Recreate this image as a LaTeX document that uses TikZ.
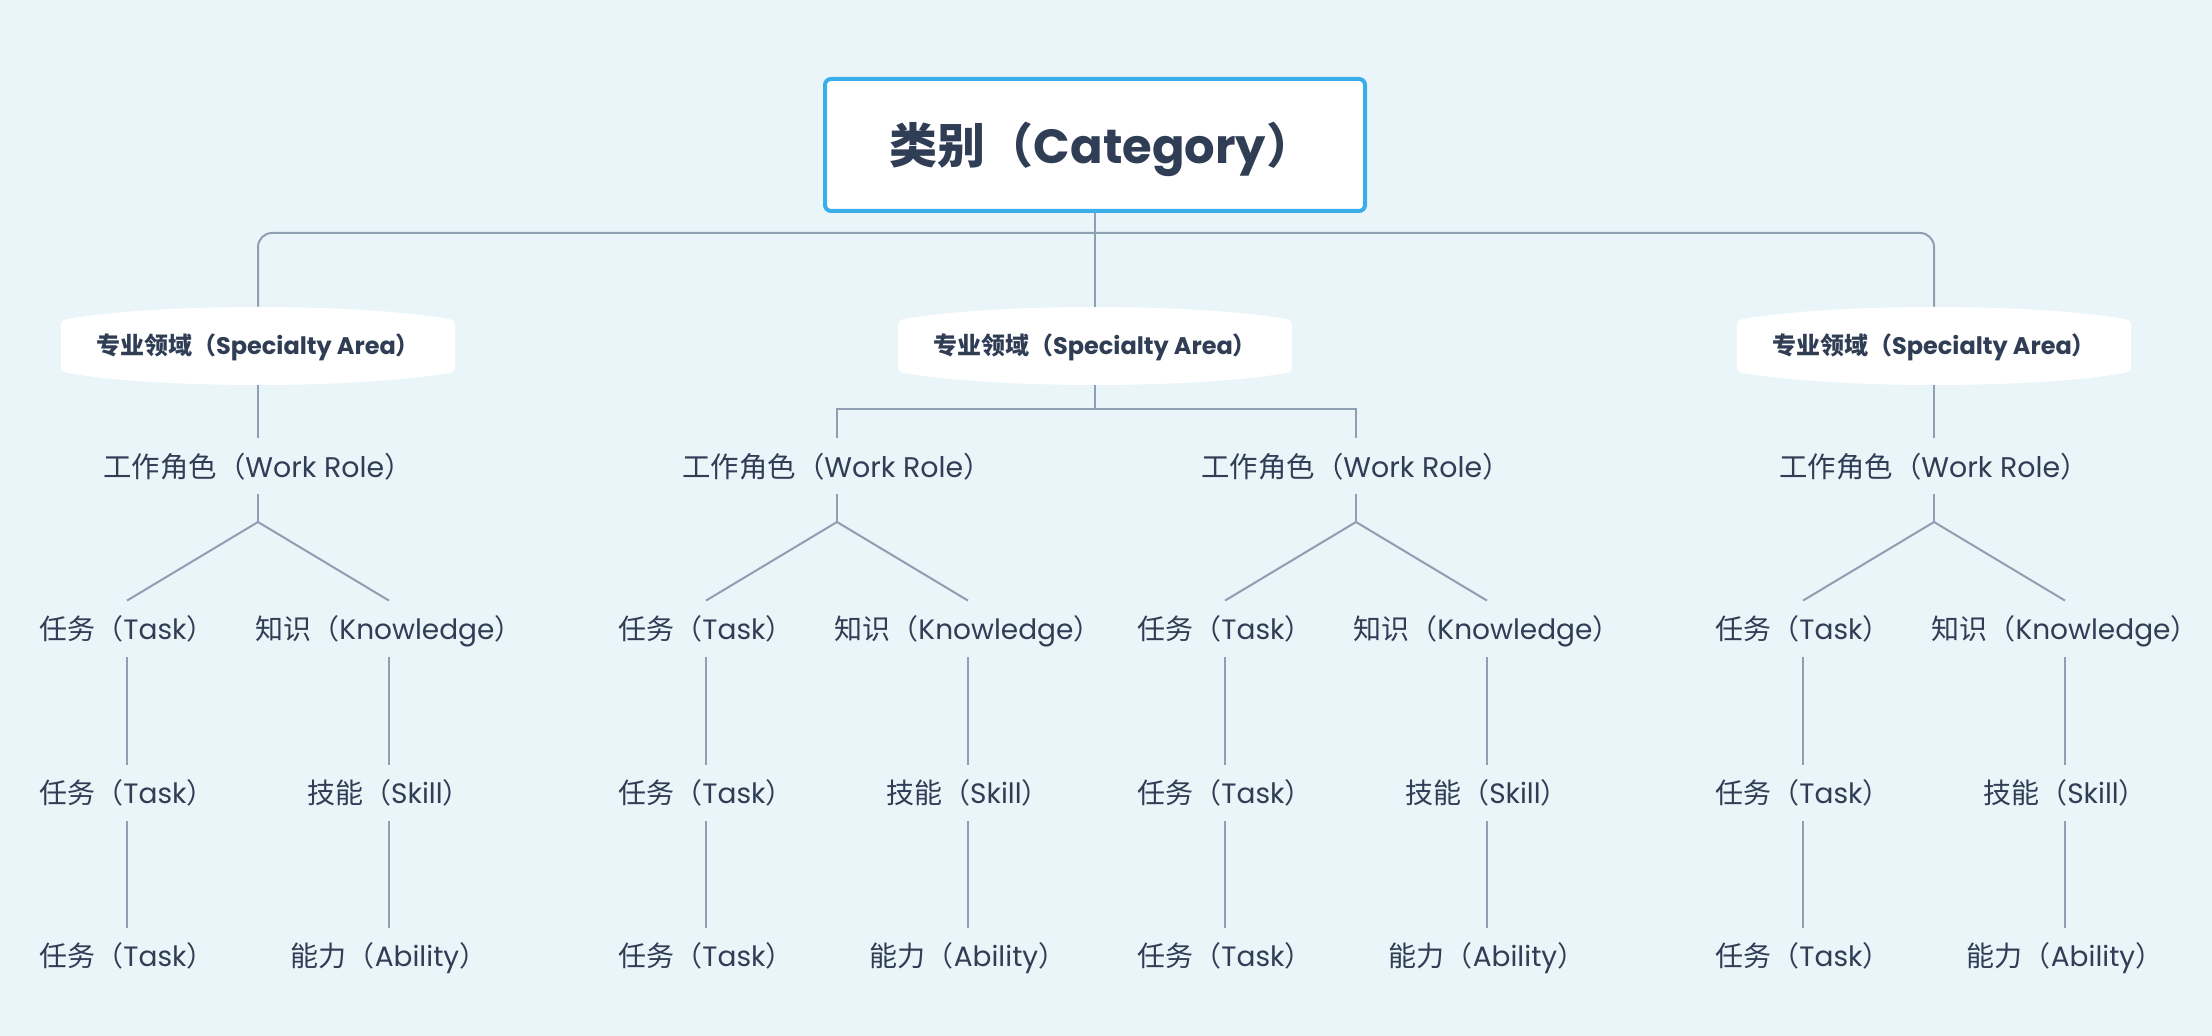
\documentclass[tikz,border=0pt]{standalone}
\usepackage{fontspec}
\setmainfont{Poppins}
\newfontfamily\cjk{Noto Sans CJK SC}
\usetikzlibrary{backgrounds}
\definecolor{bgc}{HTML}{E9F5F8}
\definecolor{txt}{HTML}{2F3D55}
\definecolor{lnc}{HTML}{8E9FB2}
\definecolor{blu}{HTML}{3BAEEA}
\newcommand\mylbl[2]{{\cjk #1（}#2{\cjk ）}}
\tikzset{
 conn/.style={draw=lnc, line width=1pt},
 catbox/.style={draw=blu, line width=2pt, fill=white, rounded corners=3pt, minimum width=270pt, minimum height=66pt, inner sep=0pt, text height=20pt, text depth=1.8pt, font=\fontsize{24}{29}\selectfont\bfseries, text=txt},
 areanode/.style={minimum width=197pt, minimum height=39pt, inner sep=0pt, text height=9.2pt, text depth=0.9pt, font=\fontsize{12}{15}\selectfont\bfseries, text=txt},
 rolenode/.style={minimum height=28pt, inner sep=0pt, text height=12.5pt, text depth=1.2pt, font=\fontsize{14.2}{17}\selectfont, text=txt},
 leafnode/.style={minimum height=28pt, inner sep=0pt, text height=11.8pt, text depth=1.16pt, font=\fontsize{14}{17}\selectfont, text=txt},
}
\begin{document}
\begin{tikzpicture}[x=0.5pt,y=-0.5pt]
\useasboundingbox (0,0) rectangle (2212,1036);
% top
\node[catbox] (cat) at (1095,145) {\hspace{7pt}\mylbl{类别}{Category}};
% specialty areas
\node[areanode] (sa1) at (258,346) {\mylbl{专业领域}{Specialty Area}};
\node[areanode] (sa2) at (1095,346) {\mylbl{专业领域}{Specialty Area}};
\node[areanode] (sa3) at (1934,346) {\mylbl{专业领域}{Specialty Area}};
\coordinate (bus) at (1095,233);
\coordinate (b2) at (1095,409);
% work roles
\node[rolenode] (wr1) at (258,466) {\mylbl{工作角色}{Work Role}};
\node[rolenode] (wr2) at (837,466) {\mylbl{工作角色}{Work Role}};
\node[rolenode] (wr3) at (1356,466) {\mylbl{工作角色}{Work Role}};
\node[rolenode] (wr4) at (1934,466) {\mylbl{工作角色}{Work Role}};
% connectors top
\draw[conn] (cat.south) -- (bus);
\draw[conn, rounded corners=7pt] (sa1.north) |- (bus) -| (sa3.north);
\draw[conn] (bus) -- (sa2.north);
\draw[conn] (sa1.south) -- (wr1.north);
\draw[conn] (sa3.south) -- (wr4.north);
\draw[conn] (sa2.south) -- (b2);
\draw[conn] (wr2.north) |- (b2) -| (wr3.north);
% leaves
\foreach \i/\X in {1/258,2/837,3/1356,4/1934}{
  \coordinate (ap\i) at (\X,522);
  \node[leafnode] (ta\i) at ({\X-131},629) {\mylbl{任务}{Task}};
  \node[leafnode] (ka\i) at ({\X+131},629) {\mylbl{知识}{Knowledge}};
  \node[leafnode] (tb\i) at ({\X-131},793) {\mylbl{任务}{Task}};
  \node[leafnode] (kb\i) at ({\X+131},793) {\mylbl{技能}{Skill}};
  \node[leafnode] (tc\i) at ({\X-131},956) {\mylbl{任务}{Task}};
  \node[leafnode] (kc\i) at ({\X+131},956) {\mylbl{能力}{Ability}};
  \draw[conn] (wr\i.south) -- (ap\i);
  \draw[conn] (ap\i) -- (ta\i.north);
  \draw[conn] (ap\i) -- (ka\i.north);
  \draw[conn] (ta\i.south) -- (tb\i.north);
  \draw[conn] (tb\i.south) -- (tc\i.north);
  \draw[conn] (ka\i.south) -- (kb\i.north);
  \draw[conn] (kb\i.south) -- (kc\i.north);
}
\begin{scope}[on background layer]
\fill[bgc] (0,0) rectangle (2212,1036);
\foreach \n in {sa1,sa2,sa3}{
  \fill[white, shift={(\n)}] (-191,-27) .. controls (-100,-43) and (100,-43) .. (191,-27)
    .. controls (196,-26) and (197,-24) .. (197,-20) -- (197,20)
    .. controls (197,24) and (196,26) .. (191,27)
    .. controls (100,43) and (-100,43) .. (-191,27)
    .. controls (-196,26) and (-197,24) .. (-197,20) -- (-197,-20)
    .. controls (-197,-24) and (-196,-26) .. (-191,-27) -- cycle;
}
\end{scope}
\end{tikzpicture}
\end{document}
